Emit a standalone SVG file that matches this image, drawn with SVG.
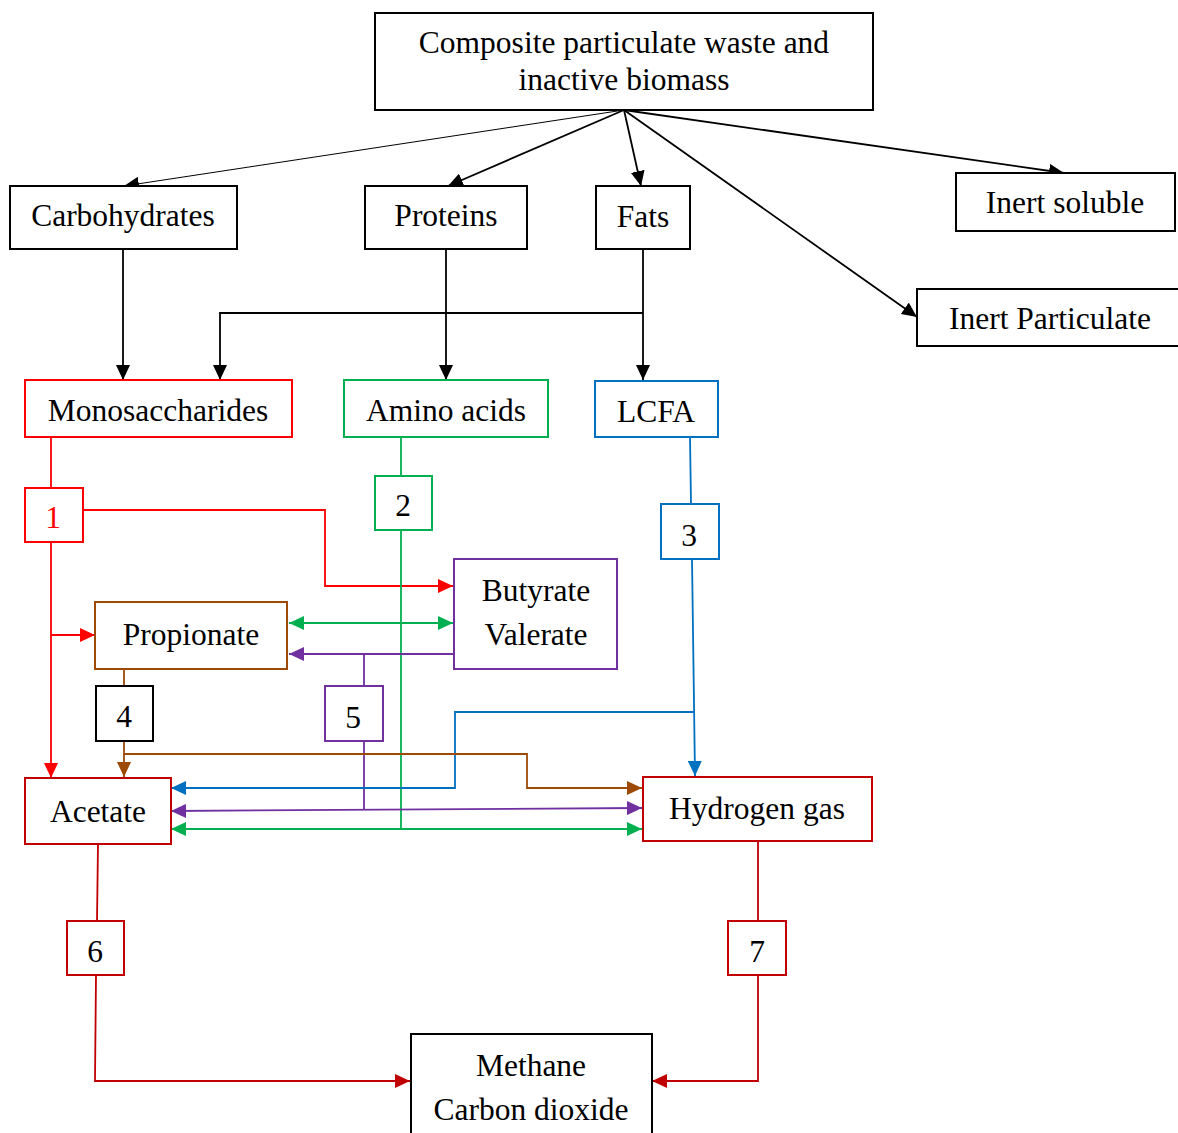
<svg xmlns="http://www.w3.org/2000/svg" width="1178" height="1133" viewBox="0 0 1178 1133">
<style>
text{font-family:"Liberation Serif","Times New Roman",serif;font-size:31.5px;fill:#000;text-anchor:middle}
rect{fill:#fff;stroke-width:2}
.k{stroke:#000}.r{stroke:#FF0000}.dr{stroke:#C00000}.g{stroke:#00B050}.b{stroke:#0070C0}.p{stroke:#7030A0}.br{stroke:#9C4A05}
#conn path,#conn line,#conn polyline{fill:none;stroke-width:1.8}
</style>
<defs>
<marker id="mk" viewBox="0 0 15 14" refX="15" refY="7" markerWidth="15" markerHeight="14" markerUnits="userSpaceOnUse" orient="auto-start-reverse"><path d="M0,0L15,7L0,14z" fill="#000"/></marker>
<marker id="mr" viewBox="0 0 15 14" refX="15" refY="7" markerWidth="15" markerHeight="14" markerUnits="userSpaceOnUse" orient="auto-start-reverse"><path d="M0,0L15,7L0,14z" fill="#FF0000"/></marker>
<marker id="mdr" viewBox="0 0 15 14" refX="15" refY="7" markerWidth="15" markerHeight="14" markerUnits="userSpaceOnUse" orient="auto-start-reverse"><path d="M0,0L15,7L0,14z" fill="#C00000"/></marker>
<marker id="mg" viewBox="0 0 15 14" refX="15" refY="7" markerWidth="15" markerHeight="14" markerUnits="userSpaceOnUse" orient="auto-start-reverse"><path d="M0,0L15,7L0,14z" fill="#00B050"/></marker>
<marker id="mb" viewBox="0 0 15 14" refX="15" refY="7" markerWidth="15" markerHeight="14" markerUnits="userSpaceOnUse" orient="auto-start-reverse"><path d="M0,0L15,7L0,14z" fill="#0070C0"/></marker>
<marker id="mp" viewBox="0 0 15 14" refX="15" refY="7" markerWidth="15" markerHeight="14" markerUnits="userSpaceOnUse" orient="auto-start-reverse"><path d="M0,0L15,7L0,14z" fill="#7030A0"/></marker>
<marker id="mbr" viewBox="0 0 15 14" refX="15" refY="7" markerWidth="15" markerHeight="14" markerUnits="userSpaceOnUse" orient="auto-start-reverse"><path d="M0,0L15,7L0,14z" fill="#9C4A05"/></marker>
</defs>

<g id="conn">
<!-- black -->
<line x1="624" y1="110" x2="124" y2="186" stroke="#000" style="stroke-width:1" marker-end="url(#mk)"/>
<line x1="624" y1="110" x2="448" y2="186" stroke="#000" marker-end="url(#mk)"/>
<line x1="624" y1="110" x2="641" y2="186" stroke="#000" marker-end="url(#mk)"/>
<line x1="624" y1="110" x2="1064" y2="173" stroke="#000" marker-end="url(#mk)"/>
<line x1="624" y1="110" x2="917" y2="317" stroke="#000" marker-end="url(#mk)"/>
<line x1="123" y1="249" x2="123" y2="380" stroke="#000" marker-end="url(#mk)"/>
<line x1="446" y1="249" x2="446" y2="380" stroke="#000" marker-end="url(#mk)"/>
<line x1="643" y1="249" x2="643" y2="380" stroke="#000" marker-end="url(#mk)"/>
<polyline points="643,313 220,313 220,380" stroke="#000" marker-end="url(#mk)"/>
<!-- red -->
<line x1="51" y1="437" x2="51" y2="488" stroke="#FF0000"/>
<line x1="51" y1="542" x2="51" y2="778" stroke="#FF0000" marker-end="url(#mr)"/>
<line x1="51" y1="635" x2="95" y2="635" stroke="#FF0000" marker-end="url(#mr)"/>
<polyline points="83,510 325,510 325,586 453,586" stroke="#FF0000" marker-end="url(#mr)"/>
<!-- green -->
<line x1="401" y1="437" x2="401" y2="476" stroke="#00B050"/>
<line x1="401" y1="530" x2="401" y2="829" stroke="#00B050"/>
<line x1="171" y1="829" x2="642" y2="829" stroke="#00B050" marker-start="url(#mg)" marker-end="url(#mg)"/>
<line x1="289" y1="623" x2="453" y2="623" stroke="#00B050" marker-start="url(#mg)" marker-end="url(#mg)"/>
<!-- purple -->
<line x1="453" y1="654" x2="289" y2="654" stroke="#7030A0" marker-end="url(#mp)"/>
<line x1="364" y1="654" x2="364" y2="686" stroke="#7030A0"/>
<line x1="364" y1="741" x2="364" y2="809" stroke="#7030A0"/>
<line x1="171" y1="811" x2="642" y2="808" stroke="#7030A0" marker-start="url(#mp)" marker-end="url(#mp)"/>
<!-- blue -->
<line x1="690" y1="437" x2="691" y2="504" stroke="#0070C0"/>
<line x1="692" y1="559" x2="695" y2="776" stroke="#0070C0" marker-end="url(#mb)"/>
<polyline points="694,712 455,712 455,788 171,788" stroke="#0070C0" marker-end="url(#mb)"/>
<!-- brown -->
<line x1="124" y1="669" x2="124" y2="686" stroke="#9C4A05"/>
<line x1="124" y1="741" x2="124" y2="777" stroke="#9C4A05" marker-end="url(#mbr)"/>
<polyline points="124,754 527,754 527,788 642,788" stroke="#9C4A05" marker-end="url(#mbr)"/>
<!-- dark red -->
<line x1="98" y1="844" x2="97" y2="921" stroke="#C00000"/>
<polyline points="96,975 95,1081 410,1081" stroke="#C00000" marker-end="url(#mdr)"/>
<line x1="758" y1="841" x2="758" y2="921" stroke="#C00000"/>
<polyline points="758,975 758,1081 652,1081" stroke="#C00000" marker-end="url(#mdr)"/>
</g>

<g id="composite"><rect class="k" x="375" y="13" width="498" height="97"/><text x="624" y="53">Composite particulate waste and</text><text x="624" y="90">inactive biomass</text></g>
<g id="carbohydrates"><rect class="k" x="10" y="186" width="227" height="63"/><text x="123" y="226">Carbohydrates</text></g>
<g id="proteins"><rect class="k" x="365" y="186" width="162" height="63"/><text x="446" y="226">Proteins</text></g>
<g id="fats"><rect class="k" x="596" y="186" width="94" height="63"/><text x="643" y="227">Fats</text></g>
<g id="inert-soluble"><rect class="k" x="956" y="173" width="219" height="58"/><text x="1065" y="213">Inert soluble</text></g>
<g id="inert-particulate"><rect class="k" x="917" y="289" width="265" height="57"/><text x="1050" y="329">Inert Particulate</text></g>
<g id="monosaccharides"><rect class="r" x="25" y="380" width="267" height="57"/><text x="158" y="421">Monosaccharides</text></g>
<g id="amino-acids"><rect class="g" x="344" y="380" width="204" height="57"/><text x="446" y="421">Amino acids</text></g>
<g id="lcfa"><rect class="b" x="595" y="381" width="123" height="56"/><text x="656" y="422">LCFA</text></g>
<g id="step1"><rect class="r" x="25" y="488" width="58" height="54"/><text x="53" y="528" style="fill:#FF0000">1</text></g>
<g id="step2"><rect class="g" x="375" y="476" width="57" height="54"/><text x="403" y="516">2</text></g>
<g id="step3"><rect class="b" x="661" y="504" width="58" height="55"/><text x="689" y="546">3</text></g>
<g id="butyrate-valerate"><rect class="p" x="454" y="559" width="163" height="110"/><text x="536" y="601">Butyrate</text><text x="536" y="645">Valerate</text></g>
<g id="propionate"><rect class="br" x="95" y="602" width="192" height="67"/><text x="191" y="645">Propionate</text></g>
<g id="step4"><rect class="k" x="96" y="686" width="57" height="55"/><text x="124" y="727">4</text></g>
<g id="step5"><rect class="p" x="325" y="686" width="58" height="55"/><text x="353" y="728">5</text></g>
<g id="acetate"><rect class="dr" x="25" y="778" width="146" height="66"/><text x="98" y="822">Acetate</text></g>
<g id="hydrogen"><rect class="dr" x="643" y="777" width="229" height="64"/><text x="757" y="819">Hydrogen gas</text></g>
<g id="step6"><rect class="dr" x="67" y="921" width="57" height="54"/><text x="95" y="962">6</text></g>
<g id="step7"><rect class="dr" x="728" y="921" width="58" height="54"/><text x="757" y="962">7</text></g>
<g id="methane"><rect class="k" x="411" y="1034" width="241" height="110"/><text x="531" y="1076">Methane</text><text x="531" y="1120">Carbon dioxide</text></g>
</svg>
